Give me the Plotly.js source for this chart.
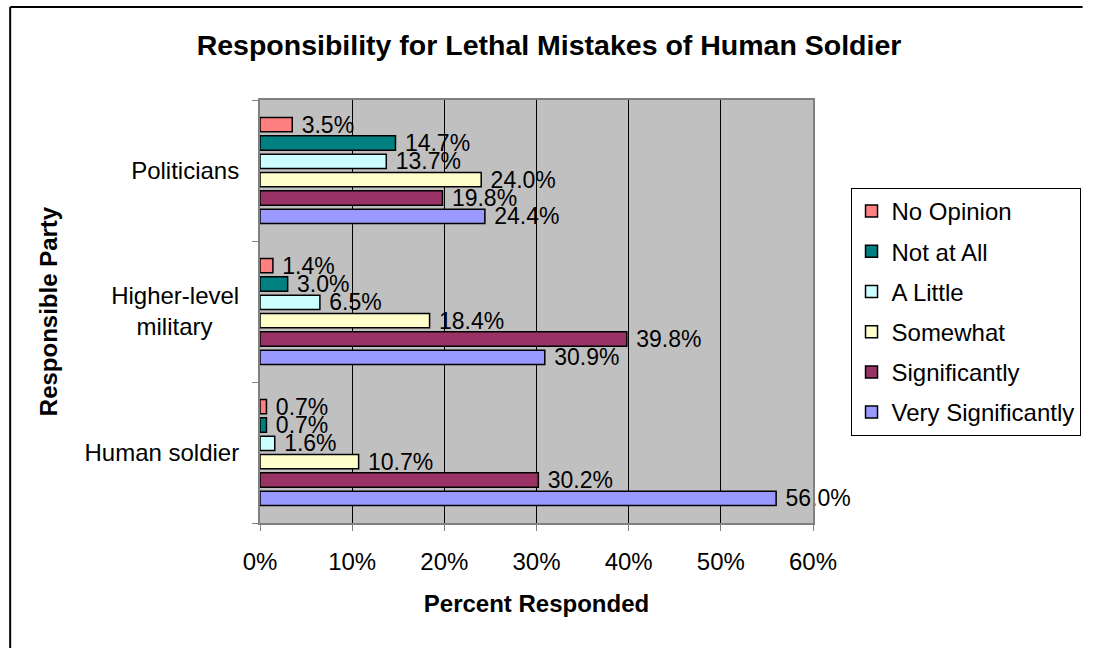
<!DOCTYPE html>
<html>
<head>
<meta charset="utf-8">
<script src="https://cdn.plot.ly/plotly-3.0.1.min.js"></script>
<style>html,body{margin:0;padding:0;background:#fff;overflow:hidden;}#chart{width:1093px;height:648px;overflow:hidden;}</style>
</head>
<body>
<div id="chart"></div>
<script>
const categories = ["Politicians", "Higher-level military", "Human soldier"];
const tickLabels = ["Politicians", "Higher-level<br>military\u00a0\u00a0\u00a0\u00a0", "Human soldier"];
const seriesNames = ["No Opinion", "Not at All", "A Little", "Somewhat", "Significantly", "Very Significantly"];
const noOpinion = [3.5, 1.4, 0.7];
const notAtAll = [14.7, 3.0, 0.7];
const aLittle = [13.7, 6.5, 1.6];
const somewhat = [24.0, 18.4, 10.7];
const significantly = [19.8, 39.8, 30.2];
const verySignificantly = [24.4, 30.9, 56.0];
const xTicks = [0, 10, 20, 30, 40, 50, 60];

const seriesValues = [noOpinion, notAtAll, aLittle, somewhat, significantly, verySignificantly];
const colors = ["#FF8080", "#008080", "#CCFFFF", "#FFFFCC", "#993366", "#9999FF"];
const FONT = "Liberation Sans, Arial, sans-serif";

// plot area in page pixels
const PL = 260, PR = 820, PT = 100, PB = 523;
const PW = PR - PL, PH = PB - PT;
const px = v => (v - PL) / PW;
const py = v => (PB - v) / PH;

const traces = seriesNames.map((name, i) => ({
  type: "bar",
  orientation: "h",
  name: name,
  legendgroup: "g" + i,
  y: categories,
  x: seriesValues[i],
  marker: {color: colors[i], line: {color: "#000", width: 1.5}},
  text: seriesValues[i].map(v => "\u00a0" + v.toFixed(1) + "%"),
  textposition: "outside",
  textfont: {family: FONT, size: 23, color: "#000"},
  constraintext: "none",
  cliponaxis: false,
  hoverinfo: "none"
}));

const layout = {
  width: 1093, height: 648,
  margin: {l: PL, r: 1093 - PR, t: PT, b: 648 - PB},
  paper_bgcolor: "#fff",
  plot_bgcolor: "#C0C0C0",
  font: {family: FONT, size: 24, color: "#000"},
  barmode: "group",
  bargap: 0.22,
  bargroupgap: 0.22,
  title: {text: "Responsibility for Lethal Mistakes of Human Soldier", font: {family: FONT, size: 28.5, weight: "bold", color: "#000"}, x: 549/1093, xanchor: "center", y: 1 - 45/648, yanchor: "middle", xref: "container", yref: "container"},
  xaxis: {
    range: [0, 60], tickvals: xTicks, ticktext: xTicks.map(v => v + "%"),
    showgrid: true, gridcolor: "#000", gridwidth: 1,
    ticks: "outside", ticklen: 6, tickcolor: "#808080", tickwidth: 1,
    showline: true, linecolor: "#808080", linewidth: 2, mirror: true,
    zeroline: false, ticklabelstandoff: 10,
    tickfont: {family: FONT, size: 24},
    title: {text: "Percent Responded", font: {family: FONT, size: 24, weight: "bold"}, standoff: 21}
  },
  yaxis: {
    type: "category", autorange: "reversed",
    tickvals: categories, ticktext: tickLabels,
    tickson: "boundaries", ticks: "outside", ticklen: 6, tickcolor: "#808080", tickwidth: 1,
    showline: true, linecolor: "#808080", linewidth: 2, mirror: true,
    showgrid: false, zeroline: false, ticklabelstandoff: 14,
    tickfont: {family: FONT, size: 24},
    title: {text: "Responsible Party", font: {family: FONT, size: 24, weight: "bold"}, standoff: 20}
  },
  legend: {
    x: px(858), xanchor: "left",
    y: py(188), yanchor: "top",
    bgcolor: "#fff", bordercolor: "#000", borderwidth: 1,
    font: {family: FONT, size: 24, color: "#000"},
    traceorder: "grouped", tracegroupgap: 6,
    itemclick: false
  },
  shapes: [
    {type: "line", xref: "paper", yref: "paper", x0: px(7), x1: px(7), y0: py(660), y1: py(7), line: {color: "#000", width: 2}, layer: "below"},
    {type: "line", xref: "paper", yref: "paper", x0: px(7), x1: px(1093), y0: py(7), y1: py(7), line: {color: "#000", width: 2}, layer: "below"}
  ]
};

Plotly.newPlot("chart", traces, layout, {staticPlot: true, displayModeBar: false});
</script>
</body>
</html>
